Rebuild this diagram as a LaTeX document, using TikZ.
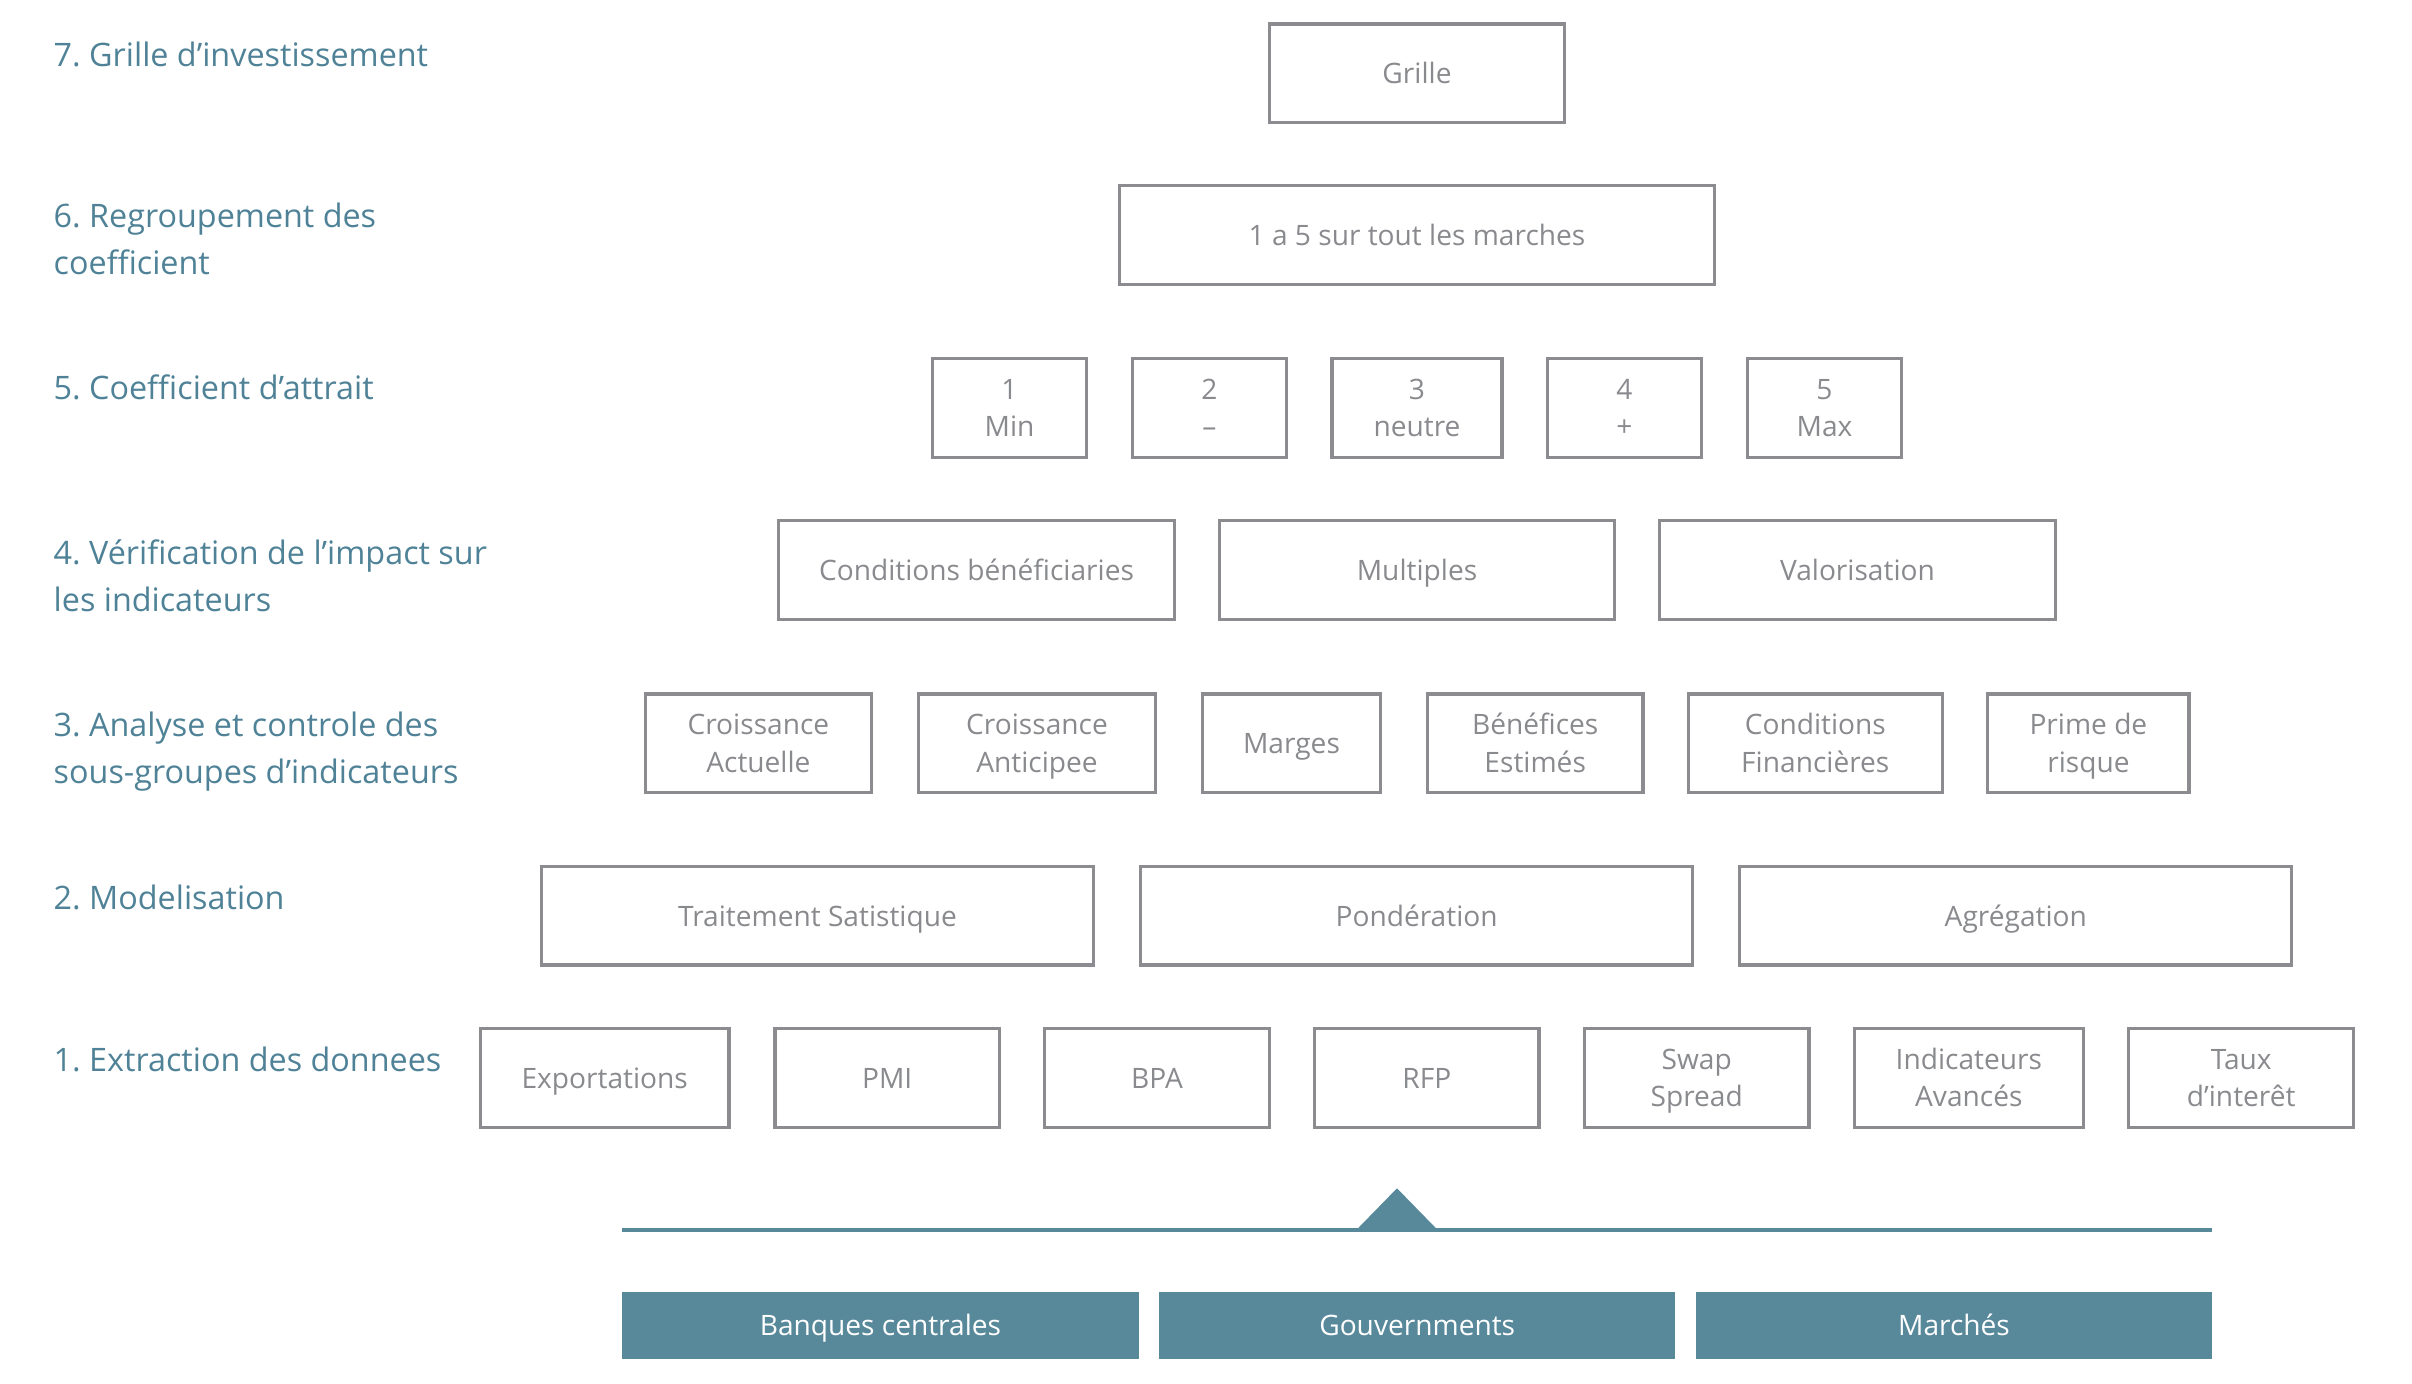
\documentclass[tikz,border=0pt]{standalone}
\usepackage{fontspec}
\setmainfont{Open Sans}
\frenchspacing
\definecolor{stagecol}{HTML}{4F8297}
\definecolor{boxgray}{HTML}{8C8B8F}
\definecolor{txtgray}{HTML}{898A8D}
\definecolor{srcteal}{HTML}{58899B}
\begin{document}
\begin{tikzpicture}[
    box/.style={draw=boxgray, line width=0.95pt, text=txtgray, align=center, minimum height=0.985cm, inner sep=0pt, text height=7.7pt, text depth=1.9pt, font=\fontsize{8pt}{10.7pt}\selectfont},
    boxtwo/.style={box, text height=18.4pt},
    stage/.style={anchor=base west, align=left, text=stagecol, inner sep=0pt, font=\fontsize{9.2pt}{13.5pt}\selectfont},
    source/.style={fill=srcteal, text=white, minimum width=5.165cm, minimum height=0.67cm, inner sep=0pt, text height=7.7pt, text depth=1.9pt, font=\fontsize{8pt}{10.7pt}\selectfont}
]
    \useasboundingbox (0,0) rectangle (24.12,-13.84);

    \node[stage] (etape7) at (0.53,-0.667) {7. Grille d’investissement};
    \node[stage] (etape6) at (0.53,-2.75) {6. Regroupement des\\coefficient};
    \node[stage] (etape5) at (0.53,-4.00) {5. Coefficient d’attrait};
    \node[stage] (etape4) at (0.53,-6.116) {4. Vérification de l’impact sur\\les indicateurs};
    \node[stage] (etape3) at (0.53,-7.84) {3. Analyse et controle des\\sous-groupes d’indicateurs};
    \node[stage] (etape2) at (0.53,-9.098) {2. Modelisation};
    \node[stage] (etape1) at (0.53,-10.714) {1. Extraction des donnees};

    \node[box, minimum width=2.95cm] (grille) at (14.17,-0.732) {Grille};
    \node[box, minimum width=5.95cm] (regroup) at (14.17,-2.35) {1 a 5 sur tout les marches};

    \node[boxtwo, minimum width=1.545cm] (cmin) at (10.095,-4.08) {1\\Min};
    \node[boxtwo, minimum width=1.545cm] (cmoins) at (12.095,-4.08) {2\\–};
    \node[boxtwo, minimum width=1.70cm] (cneutre) at (14.17,-4.08) {3\\neutre};
    \node[boxtwo, minimum width=1.545cm] (cplus) at (16.245,-4.08) {4\\+};
    \node[boxtwo, minimum width=1.545cm] (cmax) at (18.245,-4.08) {5\\Max};

    \node[box, minimum width=3.955cm] (condben) at (9.765,-5.70) {Conditions bénéficiaries};
    \node[box, minimum width=3.955cm] (multiples) at (14.17,-5.70) {Multiples};
    \node[box, minimum width=3.955cm] (valo) at (18.575,-5.70) {Valorisation};

    \node[boxtwo, minimum width=2.263cm] (croisact) at (7.584,-7.432) {Croissance\\Actuelle};
    \node[boxtwo, minimum width=2.37cm] (croisant) at (10.37,-7.432) {Croissance\\Anticipee};
    \node[box, minimum width=1.78cm] (marges) at (12.915,-7.432) {Marges};
    \node[boxtwo, minimum width=2.155cm] (benef) at (15.352,-7.432) {Bénéfices\\Estimés};
    \node[boxtwo, minimum width=2.54cm] (condfin) at (18.153,-7.432) {Conditions\\Financières};
    \node[boxtwo, minimum width=2.014cm] (prime) at (20.884,-7.432) {Prime de\\risque};

    \node[box, minimum width=5.52cm] (traitement) at (8.175,-9.159) {Traitement Satistique};
    \node[box, minimum width=5.52cm] (ponderation) at (14.166,-9.159) {Pondération};
    \node[box, minimum width=5.52cm] (agregation) at (20.158,-9.159) {Agrégation};

    \node[box, minimum width=2.486cm] (export) at (6.047,-10.78) {Exportations};
    \node[box, minimum width=2.244cm] (pmi) at (8.872,-10.78) {PMI};
    \node[box, minimum width=2.244cm] (bpa) at (11.57,-10.78) {BPA};
    \node[box, minimum width=2.245cm] (rfp) at (14.268,-10.78) {RFP};
    \node[boxtwo, minimum width=2.246cm] (swap) at (16.967,-10.78) {Swap\\Spread};
    \node[boxtwo, minimum width=2.292cm] (indic) at (19.688,-10.78) {Indicateurs\\Avancés};
    \node[boxtwo, minimum width=2.252cm] (taux) at (22.412,-10.78) {Taux\\d’interêt};

    \coordinate (axeg) at (6.222,-12.30);
    \coordinate (axed) at (22.121,-12.30);
    \draw[srcteal, line width=0.04cm] (axeg) -- (axed);
    \fill[srcteal] (13.573,-12.29) -- (13.97,-11.883) -- (14.367,-12.29) -- cycle;

    \node[source] (banques) at (8.8045,-13.258) {Banques centrales};
    \node[source] (gouv) at (14.172,-13.258) {Gouvernments};
    \node[source] (marchesfin) at (19.54,-13.258) {Marchés};
\end{tikzpicture}
\end{document}
